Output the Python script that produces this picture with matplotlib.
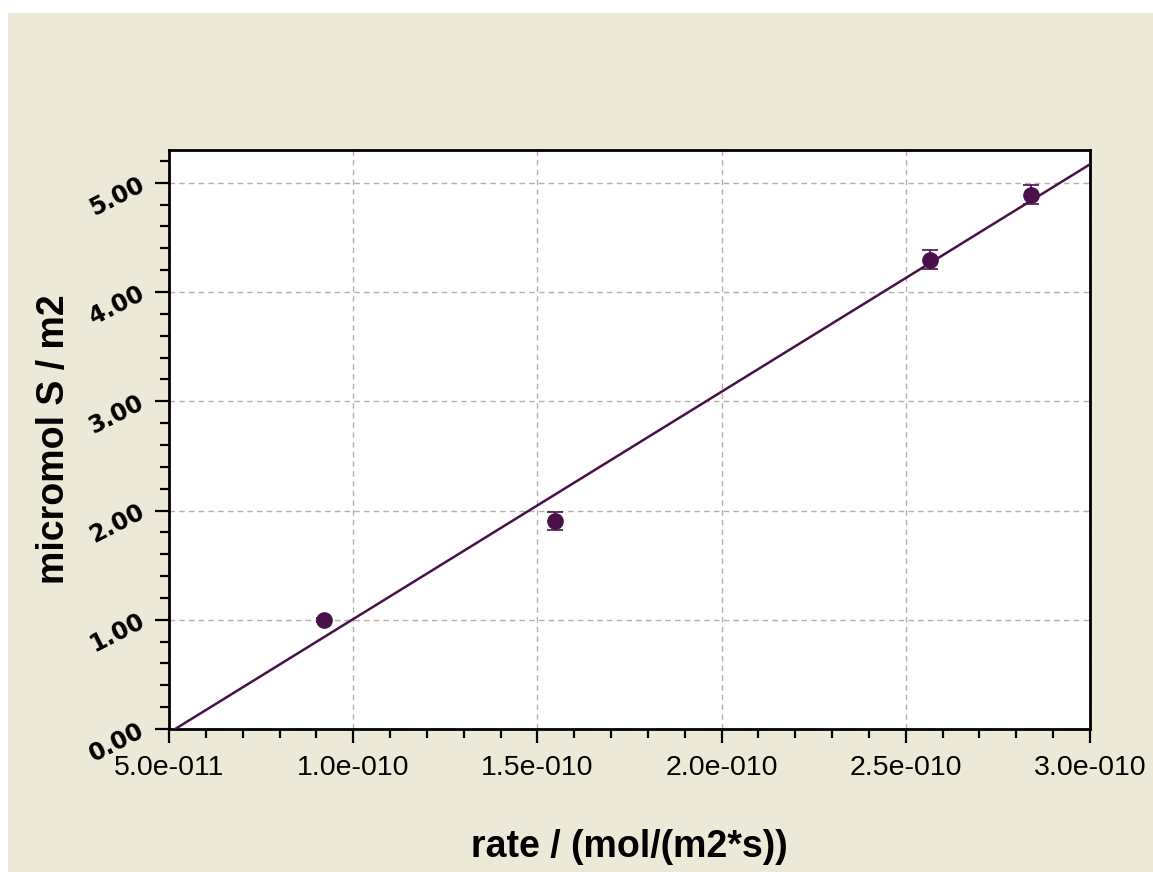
import matplotlib
matplotlib.use('Agg')
import matplotlib.pyplot as plt
from matplotlib.patches import Rectangle
from matplotlib.ticker import MultipleLocator
import numpy as np

## data
rate = [9.21e-11, 1.548e-10, 2.566e-10, 2.84e-10]
sulfur = [1.00, 1.905, 4.295, 4.89]
sulfur_err = [0.02, 0.085, 0.088, 0.087]

xticks = [5e-11, 1e-10, 1.5e-10, 2e-10, 2.5e-10, 3e-10]
xticklabels = ['5.0e-011', '1.0e-010', '1.5e-010', '2.0e-010', '2.5e-010', '3.0e-010']
yticks = [0, 1, 2, 3, 4, 5]
yticklabels = ['0.00', '1.00', '2.00', '3.00', '4.00', '5.00']
ymax = 5.30

purple = '#4a1048'
gridcol = '#bcaeaa'

fig = plt.figure(figsize=(11.53, 8.72), dpi=100, facecolor='white')
# beige panel behind the chart, small white margin top/left
fig.patches.append(Rectangle((8/1153, 0), 1 - 8/1153, 1 - 13/872,
                             transform=fig.transFigure, facecolor='#ece9d8',
                             edgecolor='none', zorder=-10))

ax = fig.add_axes([169/1153, 1 - 729/872, (1090-169)/1153, (729-150)/872])
ax.set_facecolor('white')

# linear fit through the points
coef = np.polyfit(rate, sulfur, 1)
xl = np.array([xticks[0], xticks[-1]])
ax.plot(xl, np.polyval(coef, xl), color=purple, lw=1.8, zorder=3)

ax.errorbar(rate, sulfur, yerr=sulfur_err, fmt='o', color=purple, ms=11,
            ecolor=purple, elinewidth=1.2, capsize=6, capthick=1.2, zorder=4)

ax.set_xlim(xticks[0], xticks[-1])
ax.set_ylim(0, ymax)
ax.set_xticks(xticks)
ax.set_xticklabels(xticklabels, fontsize=20.5, family='Liberation Sans')
ax.set_yticks(yticks)
ax.set_yticklabels(yticklabels, fontsize=17, family='DejaVu Sans', weight='bold',
                   rotation=27, rotation_mode='anchor', ha='right', va='center')
ax.xaxis.set_minor_locator(MultipleLocator(1e-11))
ax.yaxis.set_minor_locator(MultipleLocator(0.2))
ax.tick_params(which='major', direction='out', length=10, width=1.6)
ax.tick_params(which='minor', direction='out', length=6.5, width=1.6)
ax.tick_params(axis='x', which='major', pad=9)
ax.tick_params(axis='y', which='major', pad=9)

for s in ax.spines.values():
    s.set_linewidth(2)
    s.set_color('black')

ax.grid(True, which='major', color=gridcol, linestyle=(0, (4, 3)), lw=1, zorder=0)
ax.set_axisbelow(True)

ax.set_xlabel('rate / (mol/(m2*s))', fontsize=27, weight='bold',
              family='Liberation Sans', labelpad=34)
ax.set_ylabel('micromol S / m2', fontsize=27, weight='bold',
              family='Liberation Sans')
ax.yaxis.set_label_coords(-0.105, 0.5)

fig.savefig('out.png', dpi=100, facecolor=fig.get_facecolor())
